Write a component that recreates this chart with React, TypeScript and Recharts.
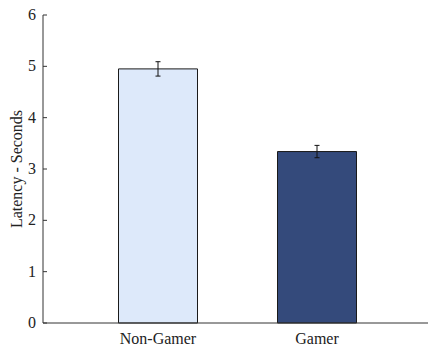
import { BarChart, Bar, XAxis, YAxis, ErrorBar } from "recharts"

const groups = ["Non-Gamer", "Gamer"]
const latency = [4.95, 3.34]
const latencyErr = [0.14, 0.12]
const barColors = ["#dde9fa", "#344a7b"]
const yTicks = [0, 1, 2, 3, 4, 5, 6]

const data = groups.map((name, i) => ({
  name,
  value: latency[i],
  err: latencyErr[i],
  fill: barColors[i],
}))

const FONT = "'Liberation Serif', 'Times New Roman', serif"
const AXIS = "#333333"

function YTick(props: any) {
  const { x, y, payload } = props
  return (
    <g>
      <line x1={x + 7} x2={x + 11} y1={y} y2={y} stroke={AXIS} strokeWidth={1} />
      <text
        x={x}
        y={y}
        dy={5}
        textAnchor="end"
        fontFamily={FONT}
        fontSize={16}
        fill="#222"
      >
        {payload.value}
      </text>
    </g>
  )
}

export default function App() {
  return (
    <div style={{ position: "absolute", left: 0, top: 0, background: "#fff" }}>
      <BarChart
        width={428}
        height={347}
        data={data}
        margin={{ top: 15, right: 0, bottom: 0, left: 0 }}
        barSize={79}
      >
        <XAxis
          dataKey="name"
          height={24}
          padding={{ left: 35.5, right: 31.5 }}
          tickLine={false}
          axisLine={{ stroke: AXIS, strokeWidth: 1 }}
          tick={{ fontFamily: FONT, fontSize: 16, fill: "#222" }}
          tickMargin={4}
        />
        <YAxis
          width={43}
          domain={[0, 6]}
          ticks={yTicks}
          interval={0}
          tickSize={0}
          tickMargin={7}
          axisLine={{ stroke: AXIS, strokeWidth: 1 }}
          tick={<YTick />}
          label={{
            content: () => (
              <text
                x={22}
                y={169}
                transform="rotate(-90 22 169)"
                textAnchor="middle"
                fontFamily={FONT}
                fontSize={16}
                fill="#222"
              >
                Latency - Seconds
              </text>
            ),
          }}
        />
        <Bar dataKey="value" stroke="#1a1a1a" strokeWidth={1} isAnimationActive={false}>
          <ErrorBar dataKey="err" width={2.5} stroke="#111" strokeWidth={1} isAnimationActive={false} />
        </Bar>
      </BarChart>
    </div>
  )
}
